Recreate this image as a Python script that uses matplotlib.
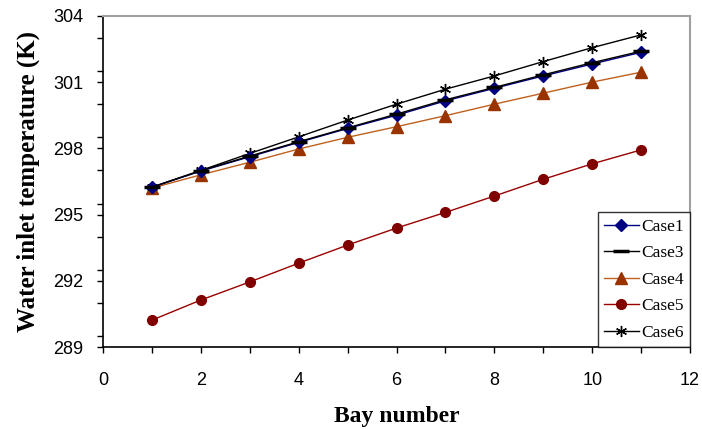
import numpy as np
import matplotlib
matplotlib.use('Agg')
import matplotlib.pyplot as plt
from matplotlib.ticker import MultipleLocator, FixedLocator

bays = [1, 2, 3, 4, 5, 6, 7, 8, 9, 10, 11]
case1 = [296.24, 296.97, 297.62, 298.27, 298.90, 299.50, 300.15, 300.72, 301.28, 301.82, 302.35]
case3 = [296.24, 296.99, 297.65, 298.30, 298.93, 299.55, 300.20, 300.76, 301.33, 301.88, 302.40]
case4 = [296.20, 296.80, 297.37, 297.97, 298.50, 298.98, 299.48, 300.00, 300.50, 301.00, 301.45]
case5 = [290.22, 291.13, 291.95, 292.80, 293.62, 294.39, 295.10, 295.84, 296.60, 297.30, 297.93]
case6 = [296.24, 297.00, 297.77, 298.52, 299.28, 300.00, 300.68, 301.28, 301.93, 302.56, 303.14]

y_ticks = [289, 292, 295, 298, 301, 304]

plt.rcParams['font.family'] = ['Liberation Serif', 'DejaVu Serif']

fig = plt.figure(figsize=(7.02, 4.29), dpi=100)
ax = fig.add_axes([0.1467, 0.191, 0.8363, 0.772])

ax.plot(bays, case1, color='#000080', marker='D', markersize=6, lw=1, label='Case1', zorder=4)
ax.plot(bays, case3, color='black', marker='_', markersize=12, mew=2.5, lw=1, label='Case3', zorder=5)
ax.plot(bays, case4, color='#C0601E', marker='^', markersize=8, mfc='#993300', mec='#993300', lw=1, label='Case4', zorder=3)
ax.plot(bays, case5, color='#990000', marker='o', markersize=7, mfc='#800000', mec='#800000', lw=1, label='Case5', zorder=3)
ax.plot(bays, case6, color='black', marker=(6, 2, 0), markersize=8, lw=1, label='Case6', zorder=3)

ax.set_xlim(0, 12)
ax.set_ylim(289, 304)
ax.xaxis.set_major_locator(MultipleLocator(2))
ax.xaxis.set_minor_locator(MultipleLocator(1))
ax.yaxis.set_major_locator(FixedLocator(y_ticks))
ax.yaxis.set_minor_locator(MultipleLocator(1.5))
ax.tick_params(which='both', direction='out', length=4, width=1)
ax.tick_params(axis='y', pad=10)
ax.tick_params(axis='x', pad=14)
for lbl in ax.get_xticklabels() + ax.get_yticklabels():
    lbl.set_family(['Liberation Sans', 'DejaVu Sans'])
    lbl.set_fontsize(13)

for s in ['top', 'right']:
    ax.spines[s].set_color('#a0a0a0')
    ax.spines[s].set_linewidth(1.5)
ax.spines['left'].set_linewidth(1.2)
ax.spines['bottom'].set_linewidth(1.2)

ax.set_xlabel('Bay number', fontsize=17, fontweight='bold', labelpad=12)
ax.set_ylabel('Water inlet temperature (K)', fontsize=18, fontweight='bold', labelpad=10)

leg = ax.legend(loc='lower right', borderaxespad=0, fancybox=False, frameon=True,
                edgecolor='black', fontsize=12.5, handlelength=2.0, labelspacing=0.6,
                borderpad=0.35, handletextpad=0.15)
leg.get_frame().set_linewidth(1)

fig.savefig('out.png', dpi=100)
